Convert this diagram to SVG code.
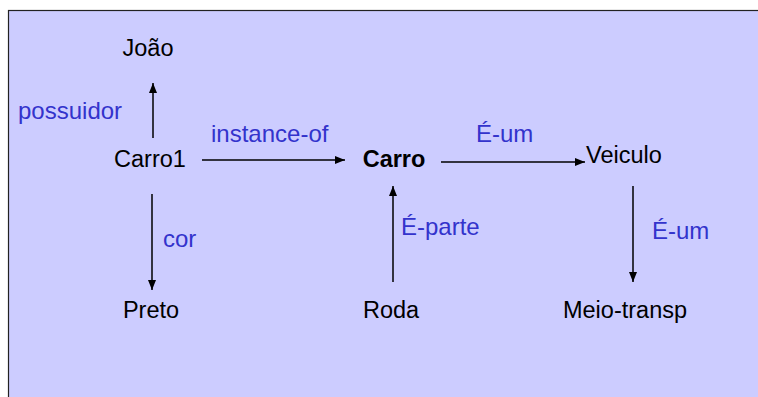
<svg xmlns="http://www.w3.org/2000/svg" width="758" height="397" viewBox="0 0 758 397">
<defs>
<style>
.n{font-family:"Liberation Sans",Arial,sans-serif;font-size:23.5px;fill:#000}
.b{font-weight:bold}
.l{font-family:"Liberation Sans",Arial,sans-serif;font-size:24px;fill:#3333cc}
.c{stroke:#000;stroke-width:1.5;fill:none;marker-end:url(#ah)}
</style>
<marker id="ah" viewBox="0 0 10 8" refX="10" refY="4" markerWidth="10" markerHeight="8" markerUnits="userSpaceOnUse" orient="auto">
<path d="M0,0 L10,4 L0,8 Z" fill="#000"/>
</marker>
</defs>
<rect x="8.5" y="10.5" width="760" height="400" fill="#ccccff" stroke="#222" stroke-width="1.2"/>
<g id="connectors">
<line class="c" x1="153" y1="138" x2="153" y2="83"/>
<line class="c" x1="202" y1="160" x2="345" y2="160"/>
<line class="c" x1="441" y1="162" x2="585" y2="162"/>
<line class="c" x1="152" y1="194" x2="152" y2="290"/>
<line class="c" x1="393" y1="282" x2="393" y2="186"/>
<line class="c" x1="633" y1="186" x2="633" y2="282"/>
<text class="l" x="18" y="119">possuidor</text>
<text class="l" x="211" y="142">instance-of</text>
<text class="l" x="476" y="142">É-um</text>
<text class="l" x="163" y="247">cor</text>
<text class="l" x="401" y="235">É-parte</text>
<text class="l" x="652" y="239">É-um</text>
</g>
<g id="joao"><text class="n" x="148" y="56" text-anchor="middle">João</text></g>
<g id="carro1"><text class="n" x="150" y="167" text-anchor="middle">Carro1</text></g>
<g id="carro"><text class="n b" x="394" y="167" text-anchor="middle">Carro</text></g>
<g id="veiculo"><text class="n" x="586" y="163">Veiculo</text></g>
<g id="preto"><text class="n" x="151" y="318" text-anchor="middle">Preto</text></g>
<g id="roda"><text class="n" x="391" y="318" text-anchor="middle">Roda</text></g>
<g id="meio-transp"><text class="n" x="625" y="318" text-anchor="middle">Meio-transp</text></g>
</svg>
